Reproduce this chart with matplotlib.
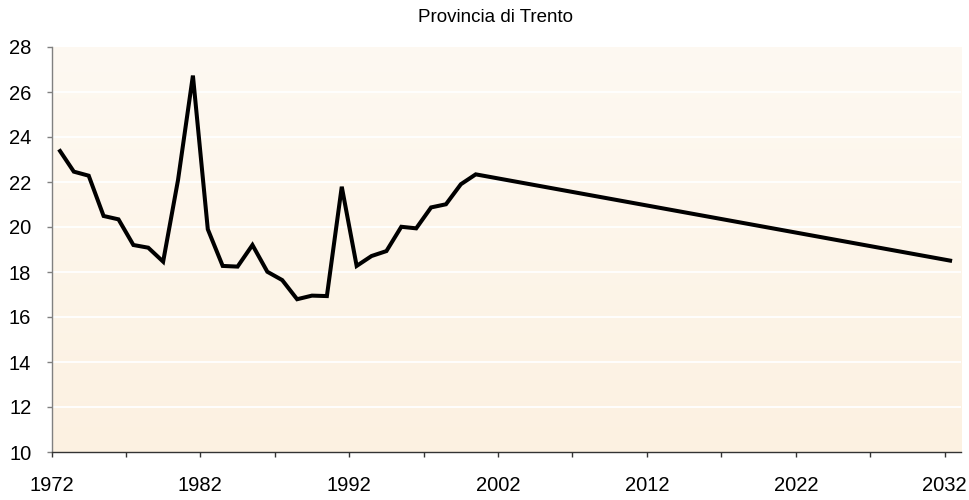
import matplotlib
matplotlib.use("Agg")
import matplotlib.pyplot as plt
import numpy as np
from matplotlib.colors import LinearSegmentedColormap

plt.rcParams['font.family'] = ['Liberation Sans', 'DejaVu Sans']

# Data (yearly values, last point is the projected end value)
years = [1972, 1973, 1974, 1975, 1976, 1977, 1978, 1979, 1980, 1981,
         1982, 1983, 1984, 1985, 1986, 1987, 1988, 1989, 1990, 1991,
         1992, 1993, 1994, 1995, 1996, 1997, 1998, 1999, 2000, 2032]
values = [23.45, 22.46, 22.28, 20.49, 20.34, 19.20, 19.08, 18.46, 22.09, 26.73,
          19.90, 18.27, 18.24, 19.20, 18.01, 17.64, 16.79, 16.95, 16.93, 21.79,
          18.27, 18.71, 18.93, 20.01, 19.94, 20.87, 21.01, 21.90, 22.34, 18.49]
major_ticks = [1972, 1982, 1992, 2002, 2012, 2022, 2032]
minor_ticks = [1977, 1987, 1997, 2007, 2017, 2027]
y_ticks = [10, 12, 14, 16, 18, 20, 22, 24, 26, 28]
title = "Provincia di Trento"

W, H = 969, 500
fig = plt.figure(figsize=(W / 100, H / 100), dpi=100)
ax = fig.add_axes([51.5 / W, (H - 452) / H, (961 - 51.5) / W, (452 - 47) / H])

xmin, xmax = 1972, 2033.1
ymin, ymax = 10, 28

# background gradient: light at top, warmer at bottom
cmap = LinearSegmentedColormap.from_list('bg', ['#FCF1E1', '#FEF9F2'])
grad = np.linspace(0, 1, 256).reshape(-1, 1)
ax.imshow(grad, aspect='auto', cmap=cmap, extent=[xmin, xmax, ymin, ymax],
          origin='lower', zorder=0, interpolation='bicubic')

for yv in y_ticks[1:-1]:
    ax.axhline(yv, color='white', lw=1.3, zorder=1)

xpos = [y + 0.5 for y in years]
ax.plot(xpos, values, color='black', lw=2.9, zorder=3,
        solid_joinstyle='miter', solid_capstyle='butt')

ax.set_xlim(xmin, xmax)
ax.set_ylim(ymin, ymax)

ax.set_xticks(major_ticks)
ax.set_xticklabels([str(t) for t in major_ticks])
ax.set_xticks(minor_ticks, minor=True)
ax.set_yticks(y_ticks)

ax.tick_params(axis='x', which='both', direction='out', length=3.5, width=1,
               color='#333333', labelsize=14.5, pad=14)
ax.tick_params(axis='y', direction='out', length=3.5, width=1,
               color='#808080', labelsize=14.5, pad=11)

for s in ['top', 'right']:
    ax.spines[s].set_visible(False)
ax.spines['left'].set_color('#808080')
ax.spines['bottom'].set_color('#333333')
ax.spines['left'].set_linewidth(1)
ax.spines['bottom'].set_linewidth(1)

fig.text(496 / W, 1 - 17.5 / H, title, ha='center', va='center', fontsize=13.5)

fig.savefig('out.png', dpi=100)
